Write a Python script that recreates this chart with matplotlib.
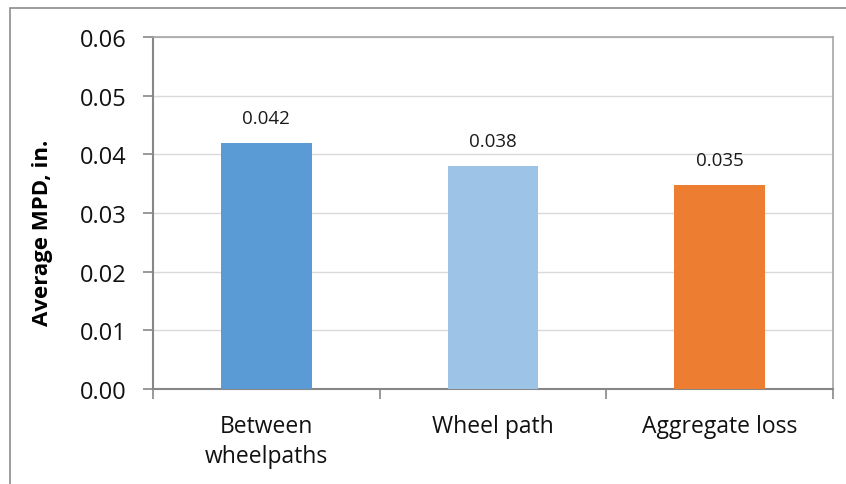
import matplotlib.pyplot as plt
from matplotlib.patches import Rectangle

categories = ["Between\nwheelpaths", "Wheel path", "Aggregate loss"]
values = [0.0419, 0.0380, 0.0348]
labels = ["0.042", "0.038", "0.035"]
colors = ["#5B9BD5", "#9DC3E6", "#ED7D31"]
yticks = [0.00, 0.01, 0.02, 0.03, 0.04, 0.05, 0.06]

plt.rcParams['font.family'] = ['Open Sans', 'DejaVu Sans']

W, H = 846, 485
fig = plt.figure(figsize=(W / 100, H / 100), dpi=100)
ax = fig.add_axes([153 / W, 1 - 390 / H, (833 - 153) / W, (390 - 38) / H])

# outer chart border (cut off at right/bottom)
fig.patches.append(Rectangle((10 / W, -0.1), 1.2, 1 - 9 / H + 0.1, transform=fig.transFigure,
                             fill=False, edgecolor="#8C8C8C", linewidth=1.2))

x = list(range(len(categories)))
ax.bar(x, values, width=0.40, color=colors, zorder=3)
for xi, v, lab in zip(x, values, labels):
    ax.text(xi, v + 0.0027, lab, ha="center", va="bottom", fontsize=13.5, color="#1a1a1a")

ax.set_xlim(-0.5, 2.5)
ax.set_ylim(0, 0.06)
ax.set_yticks(yticks)
ax.set_yticklabels([f"{t:.2f}" for t in yticks], fontsize=17, color="#111111")
ax.yaxis.grid(True, color="#D9D9D9", linewidth=1, zorder=0)
ax.set_axisbelow(True)

# category labels between boundary ticks
ax.set_xticks([-0.5, 0.5, 1.5, 2.5])
ax.set_xticklabels([])
ax.set_xticks(x, minor=True)
ax.set_xticklabels(categories, minor=True, fontsize=16.5, linespacing=1.35, color="#111111")
ax.tick_params(axis="x", which="minor", length=0, pad=18)
ax.tick_params(axis="x", which="major", length=7, color="#878787", width=1.2)
ax.tick_params(axis="y", length=7, color="#878787", width=1.2, pad=12)

for s in ["left", "bottom"]:
    ax.spines[s].set_color("#878787")
    ax.spines[s].set_linewidth(1.5)
for s in ["top", "right"]:
    ax.spines[s].set_color("#A6A6A6")
    ax.spines[s].set_linewidth(1.2)

fig.text(43 / W, 1 - 233 / H, "Average MPD, in.", rotation=90, ha="center", va="center",
         fontsize=16, fontweight="bold")

fig.savefig("out.png", dpi=100)
